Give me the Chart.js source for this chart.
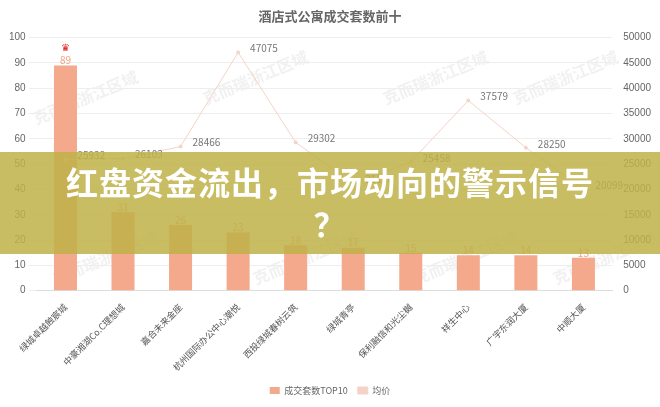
<!DOCTYPE html>
<html><head><meta charset="utf-8">
<script src="https://cdn.jsdelivr.net/npm/chart.js@4"></script>
<style>
body{margin:0;background:#fff;font-family:"Noto Sans CJK SC",sans-serif;}
#wrap{position:relative;width:660px;height:407px;}
#banner{position:absolute;left:0;top:152px;width:660px;height:102px;background:rgba(190,178,70,0.85);color:#fff;font-weight:bold;font-size:32px;text-align:center;line-height:42px;padding-top:8px;box-sizing:border-box;letter-spacing:1px;}
</style></head><body>
<div id="wrap"><canvas id="c" width="660" height="407"></canvas>
<div id="banner">红盘资金流出，市场动向的警示信号<br>？</div></div>
<script>
const categories = ["绿城卓越蝕宸城","中豪湘湖Co.C理想城","嘉合未来金座","杭州国际办公中心潮悦","西投绿城春树云筑","绿城青亭","保利融信和光尘樾","祥生中心","广宇东润大厦","中顺大厦"];
const units = [89, 31, 26, 23, 18, 17, 15, 14, 14, 13];
const avgPrice = [25932, 26103, 28466, 47075, 29302, 21150, 25458, 37579, 28250, 20099];

const labelPlugin = {
  id: "labels",
  beforeDraw(chart) {
    const ctx = chart.ctx;
    ctx.save();
    ctx.fillStyle = "rgba(200,200,200,0.25)";
    ctx.font = "bold 16px 'Noto Sans CJK SC'";
    [[80,100],[250,80],[430,80],[560,80],[100,260],[300,260],[460,260],[600,260]].forEach(([x,y]) => {
      ctx.save(); ctx.translate(x,y); ctx.rotate(-0.4); ctx.fillText("克而瑞浙江区域",-50,0); ctx.restore();
    });
    ctx.restore();
  },
  afterDatasetsDraw(chart) {
    const ctx = chart.ctx;
    ctx.save();
    ctx.textAlign = "center";
    ctx.font = "10px 'Noto Sans CJK SC'";
    chart.getDatasetMeta(0).data.forEach((b, i) => {
      ctx.fillStyle = "#f0a283";
      ctx.fillText(units[i], b.x, b.y - 5);
    });
    const b0 = chart.getDatasetMeta(0).data[0];
    ctx.fillStyle = "#e02020";
    ctx.font = "10px sans-serif";
    ctx.fillText("♛", b0.x, b0.y - 17);
    ctx.font = "10px 'Noto Sans CJK SC'";
    ctx.fillStyle = "#777";
    ctx.textAlign = "left";
    chart.getDatasetMeta(1).data.forEach((p, i) => {
      ctx.fillText(avgPrice[i], p.x + 12, p.y - 4);
    });
    ctx.restore();
  }
};

new Chart(document.getElementById("c"), {
  data: {
    labels: categories,
    datasets: [
      { type: "bar", label: "成交套数TOP10", data: units, backgroundColor: "#f4a88c", yAxisID: "y", barPercentage: 0.4, categoryPercentage: 1, order: 2 },
      { type: "line", label: "均价", data: avgPrice, borderColor: "#f4d3c6", backgroundColor: "#f4d3c6", borderWidth: 1, pointRadius: 1.5, yAxisID: "y1", order: 1 }
    ]
  },
  options: {
    responsive: false, animation: false,
    layout: { padding: { left: 6, right: 6, top: 4, bottom: 2 } },
    plugins: {
      title: { display: true, text: "酒店式公寓成交套数前十", color: "#666", font: { size: 13, weight: "bold", family: "Noto Sans CJK SC" }, padding: { top: 4, bottom: 14 } },
      legend: { position: "bottom", labels: { sort: (a, b) => a.datasetIndex - b.datasetIndex, boxWidth: 10, boxHeight: 7, font: { size: 9, family: "Noto Sans CJK SC" }, color: "#666" } },
      tooltip: { enabled: false }
    },
    scales: {
      x: { grid: { display: false }, border: { color: "#ddd" }, ticks: { maxRotation: 45, minRotation: 45, color: "#555", font: { size: 9, family: "Noto Sans CJK SC" } } },
      y: { min: 0, max: 100, ticks: { stepSize: 10, color: "#666", font: { size: 10 } }, grid: { color: "#eee" }, border: { display: false } },
      y1: { position: "right", min: 0, max: 50000, ticks: { stepSize: 5000, color: "#666", font: { size: 10 }, callback: v => String(v) }, grid: { display: false }, border: { display: false } }
    }
  },
  plugins: [labelPlugin]
});
</script></body></html>
